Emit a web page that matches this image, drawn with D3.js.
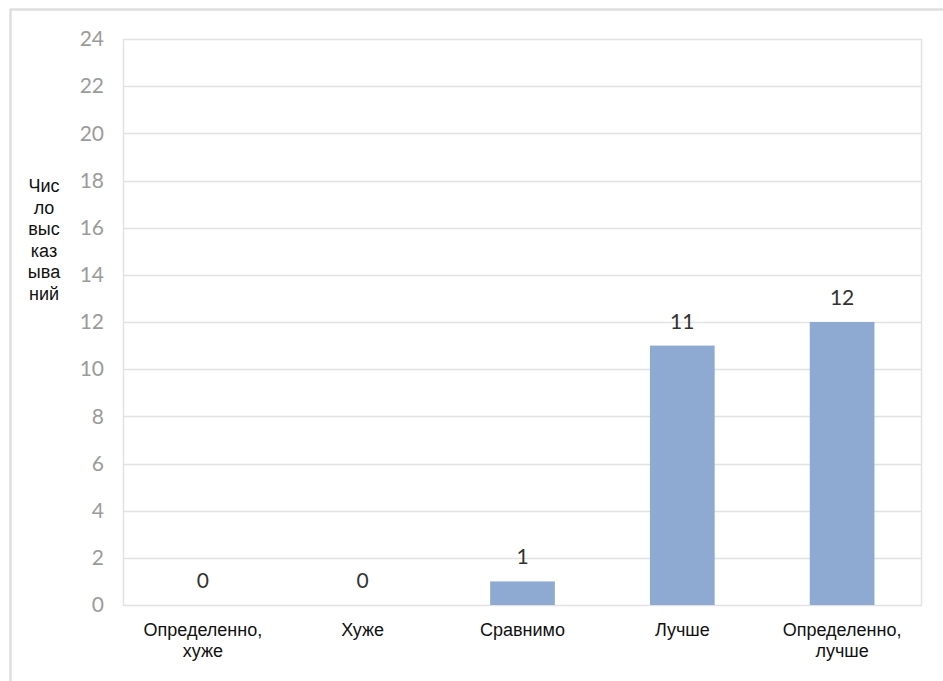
<!DOCTYPE html>
<html>
<head>
<meta charset="utf-8">
<script src="https://cdn.jsdelivr.net/npm/d3@7"></script>
<style>
  html, body { margin: 0; padding: 0; background: #fff; }
  svg { display: block; }
</style>
</head>
<body>
<svg id="chart" width="943" height="681"></svg>
<script>
const categories = [["Определенно,", "хуже"], ["Хуже"], ["Сравнимо"], ["Лучше"], ["Определенно,", "лучше"]];
const values = [0, 0, 1, 11, 12];
const yTicks = [0, 2, 4, 6, 8, 10, 12, 14, 16, 18, 20, 22, 24];
const yTitleLines = ["Чис", "ло", "выс", "каз", "ыва", "ний"];

const W = 943, H = 681;
const margin = { left: 123, right: 21, top: 39, bottom: 76 };
const svg = d3.select("#chart");

// outer frame (only top and left visible)
svg.append("line").attr("x1", 10).attr("x2", W).attr("y1", 9.5).attr("y2", 9.5)
  .attr("stroke", "#dedede").attr("stroke-width", 2.5);
svg.append("line").attr("x1", 10.5).attr("x2", 10.5).attr("y1", 9).attr("y2", H)
  .attr("stroke", "#dedede").attr("stroke-width", 2.5);

const x = d3.scaleBand().domain(d3.range(categories.length))
  .range([margin.left, W - margin.right]).paddingInner(0.595).paddingOuter(0.2975);
const y = d3.scaleLinear().domain([0, 24]).range([H - margin.bottom, margin.top]);

// gridlines
svg.append("g")
  .selectAll("line").data(yTicks).join("line")
  .attr("x1", margin.left).attr("x2", W - margin.right)
  .attr("y1", d => Math.round(y(d)) + 0.5).attr("y2", d => Math.round(y(d)) + 0.5)
  .attr("stroke", "#e2e2e2").attr("stroke-width", 1.5);

// plot area border sides
svg.append("line").attr("x1", margin.left + 0.5).attr("x2", margin.left + 0.5)
  .attr("y1", y(24)).attr("y2", y(0)).attr("stroke", "#e2e2e2").attr("stroke-width", 1.5);
svg.append("line").attr("x1", W - margin.right - 0.5).attr("x2", W - margin.right - 0.5)
  .attr("y1", y(24)).attr("y2", y(0)).attr("stroke", "#e2e2e2").attr("stroke-width", 1.5);

// y axis labels
const yAxis = d3.axisLeft(y).tickValues(yTicks).tickSize(0).tickPadding(19);
const gy = svg.append("g").attr("transform", `translate(${margin.left},0)`).call(yAxis);
gy.select(".domain").remove();
gy.selectAll("text").attr("fill", "#9b9b9b").attr("font-family", "Lato, 'Open Sans', sans-serif")
  .attr("font-size", 21);

// bars
svg.append("g").selectAll("rect").data(values).join("rect")
  .attr("x", (d, i) => x(i)).attr("width", x.bandwidth())
  .attr("y", d => y(d)).attr("height", d => y(0) - y(d))
  .attr("fill", "#8faad2");

// value labels
svg.append("g").selectAll("text").data(values).join("text")
  .attr("x", (d, i) => x(i) + x.bandwidth() / 2)
  .attr("y", d => y(d) - 17)
  .attr("text-anchor", "middle")
  .attr("fill", "#333")
  .attr("font-family", "Lato, 'Open Sans', sans-serif")
  .attr("font-size", 21)
  .text(d => d);

// category labels
const cat = svg.append("g").selectAll("text").data(categories).join("text")
  .attr("text-anchor", "middle")
  .attr("fill", "#111")
  .attr("font-family", "'Liberation Sans', Arial, sans-serif")
  .attr("font-size", 18);
cat.each(function(lines, i) {
  const t = d3.select(this);
  lines.forEach((ln, j) => {
    t.append("tspan").attr("x", x(i) + x.bandwidth() / 2)
      .attr("y", 636 + j * 21).text(ln);
  });
});

// y title
svg.append("text")
  .attr("text-anchor", "middle")
  .attr("fill", "#111")
  .attr("font-family", "'Liberation Sans', Arial, sans-serif")
  .attr("font-size", 18)
  .selectAll("tspan").data(yTitleLines).join("tspan")
  .attr("x", 44).attr("y", (d, i) => 192 + i * 21.6).text(d => d);
</script>
</body>
</html>
